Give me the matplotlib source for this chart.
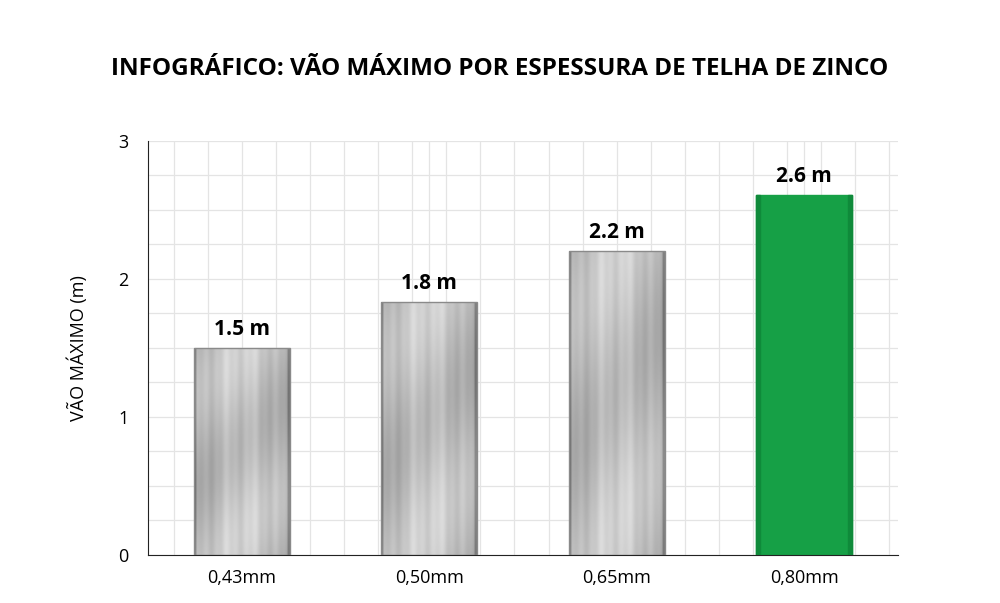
import numpy as np
import matplotlib.pyplot as plt
from matplotlib.patches import Rectangle
from matplotlib.ticker import MultipleLocator

categories = ["0,43mm", "0,50mm", "0,65mm", "0,80mm"]
values = [1.5, 1.83, 2.2, 2.61]
labels = ["1.5 m", "1.8 m", "2.2 m", "2.6 m"]

plt.rcParams['font.family'] = ['Open Sans', 'DejaVu Sans']

fig = plt.figure(figsize=(10, 6.03), dpi=100)
ax = fig.add_axes([0.148, 0.0796, 0.75, 0.6866])

x = np.arange(len(categories))
width = 0.51

# grid
ax.xaxis.set_minor_locator(MultipleLocator(4 / 22))
ax.yaxis.set_minor_locator(MultipleLocator(0.25))
ax.grid(which='both', color='#e4e4e4', linewidth=0.9)
ax.set_axisbelow(True)

# metallic texture (horizontal profile)
cols = np.linspace(0, 1, 200)
prof = 0.66 + 0.12 * np.sin(cols * np.pi) + 0.03 * np.sin(cols * 23) + 0.02 * np.sin(cols * 61)
prof[:5] = 0.5
prof[-5:] = 0.5
rows = np.linspace(0, 1, 100)[:, None]
tex = prof[None, :] + 0.05 * np.sin(rows * 7 + cols[None, :] * 3)
tex = np.clip(tex, 0, 1)

for i, v in enumerate(values):
    left = x[i] - width / 2
    if i == 3:
        ax.add_patch(Rectangle((left, 0), width, v, color='#16a046', zorder=2))
        ax.add_patch(Rectangle((left, 0), width * 0.04, v, color='#0f8a3a', zorder=3))
        ax.add_patch(Rectangle((left + width * 0.96, 0), width * 0.04, v, color='#0f8a3a', zorder=3))
    else:
        im = ax.imshow(tex, cmap='gray', vmin=0, vmax=1, extent=(left, left + width, 0, v),
                       aspect='auto', zorder=2, interpolation='bilinear')
        r = Rectangle((left, 0), width, v, facecolor='none', edgecolor='#8a8a8a', lw=1, zorder=3)
        ax.add_patch(r)
        im.set_clip_path(r)
    ax.text(x[i], v + 0.06, labels[i], ha='center', va='bottom', fontsize=15, fontweight='bold', zorder=4)

ax.set_aspect('auto')
ax.set_xlim(-0.5, 3.5)
ax.set_ylim(0, 3)
ax.set_xticks(x)
ax.set_xticklabels(categories, fontsize=13)
ax.set_yticks([0, 1, 2, 3])
ax.tick_params(axis='both', which='both', length=0)
ax.tick_params(axis='y', labelsize=13, pad=14)
ax.tick_params(axis='x', pad=10)
for s in ['top', 'right']:
    ax.spines[s].set_visible(False)
ax.spines['left'].set_color('#222222')
ax.spines['bottom'].set_color('#222222')
ax.set_ylabel("VÃO MÁXIMO (m)", fontsize=13, labelpad=22)

fig.text(0.5, 0.885, "INFOGRÁFICO: VÃO MÁXIMO POR ESPESSURA DE TELHA DE ZINCO",
         ha='center', va='center', fontsize=17.5, fontweight='bold')

fig.savefig("out.png", dpi=100)
